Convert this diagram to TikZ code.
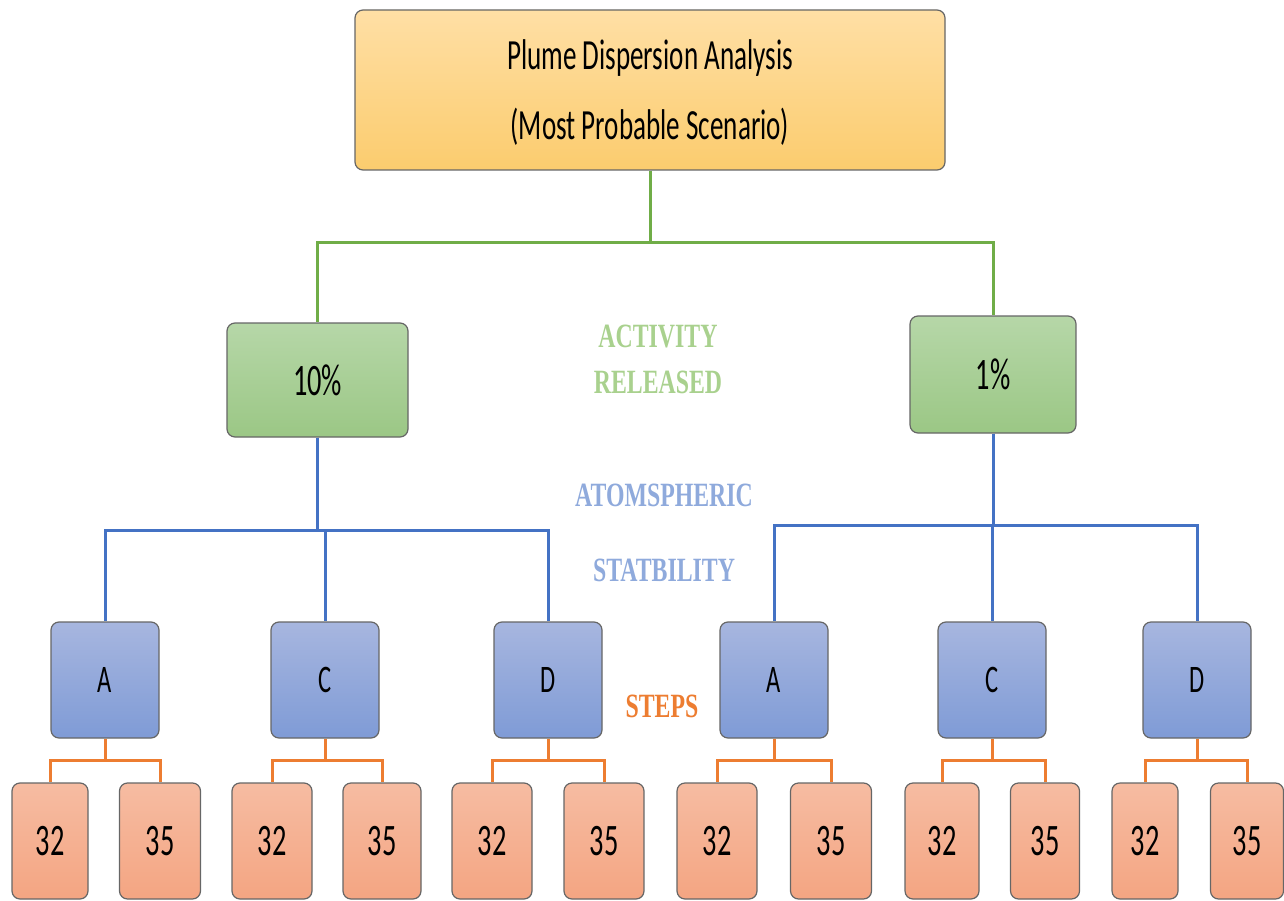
\documentclass[tikz,border=0pt]{standalone}
\usepackage{fontspec}
\setmainfont{Carlito}
\newfontfamily\boxfont[FakeStretch=0.63]{Carlito}
\newfontfamily\lblfont[FakeStretch=0.7]{Liberation Serif Bold}
\definecolor{topT}{RGB}{255,223,165}
\definecolor{topB}{RGB}{251,204,110}
\definecolor{grT}{RGB}{182,215,168}
\definecolor{grB}{RGB}{155,199,133}
\definecolor{blT}{RGB}{167,182,223}
\definecolor{blB}{RGB}{127,155,214}
\definecolor{saT}{RGB}{246,188,162}
\definecolor{saB}{RGB}{244,165,130}
\definecolor{gline}{RGB}{112,173,71}
\definecolor{bline}{RGB}{68,114,196}
\definecolor{oline}{RGB}{237,125,49}
\definecolor{glbl}{RGB}{169,209,142}
\definecolor{blbl}{RGB}{143,170,220}
\definecolor{olbl}{RGB}{237,125,49}
\begin{document}
\begin{tikzpicture}[x=1pt,y=-1pt,
  box/.style={draw=black!60, line width=1.2pt, rounded corners=8pt, inner sep=0pt, text=black},
  topbox/.style={box, top color=topT, bottom color=topB, minimum width=590pt, minimum height=160pt},
  toptext/.style={inner sep=0pt, align=center, font=\boxfont\fontsize{43}{70}\selectfont},
  pctbox/.style={box, top color=grT, bottom color=grB, font=\boxfont\fontsize{45}{48}\selectfont},
  stabbox/.style={box, top color=blT, bottom color=blB, minimum width=108pt, minimum height=116pt, font=\boxfont\fontsize{39}{42}\selectfont},
  stepbox/.style={box, top color=saT, bottom color=saB, minimum height=116pt, font=\boxfont\fontsize{45}{48}\selectfont},
  gconn/.style={draw=gline, line width=3pt},
  bconn/.style={draw=bline, line width=3pt},
  oconn/.style={draw=oline, line width=3pt},
  lbl/.style={font=\lblfont\fontsize{34}{38}\selectfont, inner sep=0pt}
]
\useasboundingbox (0,0) rectangle (1284,901);
\clip (0,0) rectangle (1284,901);

% nodes
\node[topbox] (top) at (650,90) {};
\node[toptext] (toptxt) at (650,93) {Plume Dispersion Analysis\\(Most Probable Scenario)};
\node[pctbox, minimum width=181pt, minimum height=114pt] (p10) at (317.5,380) {10\%};
\node[pctbox, minimum width=166pt, minimum height=117pt] (p1) at (993,374.5) {1\%};

\node[stabbox] (A1) at (105,680) {A};
\node[stabbox] (C1) at (325,680) {C};
\node[stabbox] (D1) at (548,680) {D};
\node[stabbox] (A2) at (774,680) {A};
\node[stabbox] (C2) at (992,680) {C};
\node[stabbox] (D2) at (1197,680) {D};

\node[stepbox, minimum width=76pt] (a1s32) at (50,841) {32};
\node[stepbox, minimum width=81pt] (a1s35) at (160,841) {35};
\node[stepbox, minimum width=80pt] (c1s32) at (272,841) {32};
\node[stepbox, minimum width=78pt] (c1s35) at (382,841) {35};
\node[stepbox, minimum width=80pt] (d1s32) at (492,841) {32};
\node[stepbox, minimum width=80pt] (d1s35) at (604,841) {35};
\node[stepbox, minimum width=80pt] (a2s32) at (717,841) {32};
\node[stepbox, minimum width=81pt] (a2s35) at (831,841) {35};
\node[stepbox, minimum width=74pt] (c2s32) at (942,841) {32};
\node[stepbox, minimum width=69pt] (c2s35) at (1045,841) {35};
\node[stepbox, minimum width=66pt] (d2s32) at (1145,841) {32};
\node[stepbox, minimum width=73pt] (d2s35) at (1247,841) {35};

% labels
\node[lbl, text=glbl] (l1) at (658,337) {ACTIVITY};
\node[lbl, text=glbl] (l2) at (658,382) {RELEASED};
\node[lbl, text=blbl] (l3) at (664,495) {ATOMSPHERIC};
\node[lbl, text=blbl] (l4) at (664,570) {STATBILITY};
\node[lbl, text=olbl] (l5) at (662,706) {STEPS};

% connectors
\draw[gconn] (top.south) -- ++(0,72) -| (p10.north);
\draw[gconn] (top.south) -- ++(0,72) -| (p1.north);

\draw[bconn] (p10.south) -- ++(0,93) -| (A1.north);
\draw[bconn] (p10.south) -- ++(0,93) -| (C1.north);
\draw[bconn] (p10.south) -- ++(0,93) -| (D1.north);
\draw[bconn] (p1.south) -- ++(0,92) -| (A2.north);
\draw[bconn] (p1.south) -- ++(0,92) -| (C2.north);
\draw[bconn] (p1.south) -- ++(0,92) -| (D2.north);

\foreach \p/\l/\r in {A1/a1s32/a1s35, C1/c1s32/c1s35, D1/d1s32/d1s35, A2/a2s32/a2s35, C2/c2s32/c2s35, D2/d2s32/d2s35}{
  \draw[oconn] (\p.south) -- ++(0,22) -| (\l.north);
  \draw[oconn] (\p.south) -- ++(0,22) -| (\r.north);
}
\end{tikzpicture}
\end{document}
